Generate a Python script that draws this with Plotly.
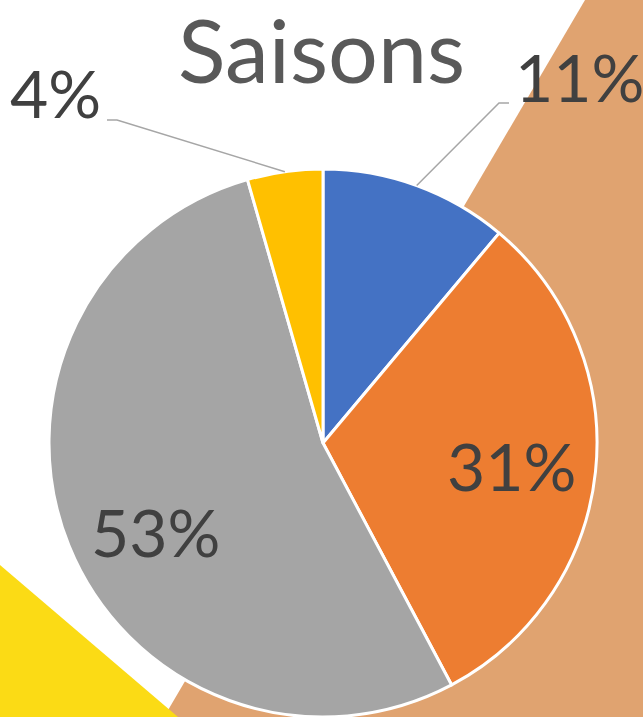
import math
import plotly.graph_objects as go

# ---- data ----
categories = ["Printemps", "Été", "Automne", "Hiver"]
values = [5, 14, 24, 2]
colors = ["#4472C4", "#ED7D31", "#A5A5A5", "#FFC000"]
chart_title = "Saisons"

# ---- layout constants (pixels) ----
W, H = 643, 717
R = 274
CX, CY = 323, 443
FONT = "Lato"
LABEL_SIZE = 66
LABEL_COLOR = "#404040"
LEADER_COLOR = "#A6A6A6"
INSIDE_FRAC = 0.69
# elbow points of leader lines for outside labels (by slice index), and side
OUTSIDE_ELBOWS = {0: (499, 103, 1), 3: (117, 120, -1)}
# small nudges of inside labels (pixels), by slice index
INSIDE_NUDGE = {1: (0, 3), 2: (8, 18)}


def px(x):
    return x / W


def py(y):
    return 1 - y / H


fig = go.Figure(
    go.Pie(
        labels=categories,
        values=values,
        sort=False,
        direction="clockwise",
        rotation=0,
        marker=dict(colors=colors, line=dict(color="white", width=3)),
        textinfo="none",
        hoverinfo="label+percent",
        showlegend=False,
        domain=dict(x=[(CX - R) / W, (CX + R) / W], y=[(H - CY - R) / H, (H - CY + R) / H]),
    )
)

total = sum(values)
cum = 0
annotations = []
shapes = [
    # decorative background shapes
    dict(type="path", xref="paper", yref="paper", layer="below",
         path=f"M {px(585)},{py(0)} L {px(643)},{py(0)} L {px(643)},{py(717)} L {px(164)},{py(717)} Z",
         fillcolor="#E0A370", line=dict(width=0)),
    dict(type="path", xref="paper", yref="paper", layer="below",
         path=f"M {px(0)},{py(565)} L {px(178)},{py(717)} L {px(0)},{py(717)} Z",
         fillcolor="#FBDB15", line=dict(width=0)),
]

for i, v in enumerate(values):
    frac = v / total
    mid = (cum + frac / 2) * 2 * math.pi
    cum += frac
    text = f"{round(frac * 100)}%"
    if i in OUTSIDE_ELBOWS:
        ex, ey, side = OUTSIDE_ELBOWS[i]
        sx = CX + R * math.sin(mid)
        sy = CY - R * math.cos(mid)
        hx = ex + side * 10
        shapes.append(dict(type="path", xref="paper", yref="paper",
                           path=f"M {px(sx)},{py(sy)} L {px(ex)},{py(ey)} L {px(hx)},{py(ey)}",
                           line=dict(color=LEADER_COLOR, width=1.5)))
        annotations.append(dict(x=px(hx + side * 4), y=py(ey - 27), xref="paper", yref="paper",
                                text=text, showarrow=False,
                                xanchor="left" if side > 0 else "right", yanchor="middle",
                                font=dict(family=FONT, size=LABEL_SIZE, color=LABEL_COLOR)))
    else:
        nx, ny = INSIDE_NUDGE.get(i, (0, 0))
        lx = CX + INSIDE_FRAC * R * math.sin(mid) + nx
        ly = CY - INSIDE_FRAC * R * math.cos(mid) + ny
        annotations.append(dict(x=px(lx), y=py(ly), xref="paper", yref="paper",
                                text=text, showarrow=False, xanchor="center", yanchor="middle",
                                font=dict(family=FONT, size=LABEL_SIZE, color=LABEL_COLOR)))

annotations.append(dict(x=0.5, y=py(49), xref="paper", yref="paper", text=chart_title,
                        showarrow=False, xanchor="center", yanchor="middle",
                        font=dict(family=FONT, size=88, color="#595959")))

fig.update_layout(
    width=W, height=H,
    margin=dict(l=0, r=0, t=0, b=0),
    paper_bgcolor="white", plot_bgcolor="white",
    shapes=shapes, annotations=annotations,
)

fig.write_html("out.html", config={"displayModeBar": False},
               post_script="document.body.style.margin='0';document.body.style.overflow='hidden';")
